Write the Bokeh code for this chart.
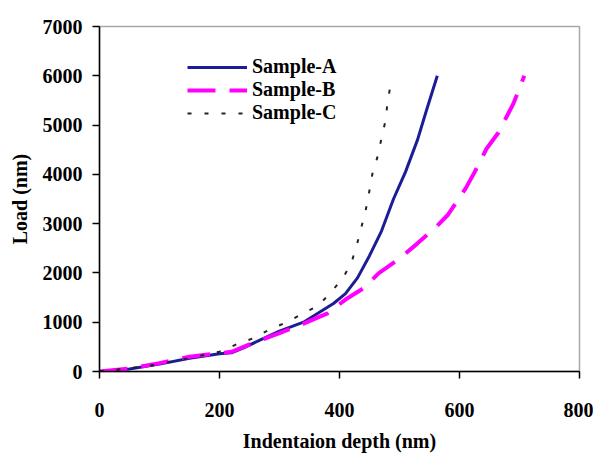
from bokeh.plotting import figure
from bokeh.models import Range1d, FixedTicker
from bokeh.embed import file_html
from bokeh.resources import INLINE

# Sample-A (solid navy)
depth_a = [0, 50, 100, 150, 200, 220, 240, 270, 300, 340, 360, 390, 410, 430, 450, 470, 490, 510, 530, 545, 563]
load_a = [0, 50, 150, 270, 360, 380, 480, 650, 820, 1000, 1150, 1380, 1580, 1900, 2350, 2850, 3500, 4050, 4700, 5300, 6000]

# Sample-B (dashed magenta)
depth_b = [0, 50, 100, 150, 200, 220, 250, 300, 340, 380, 410, 440, 465, 500, 530, 563, 580, 610, 625, 645, 665, 690, 708]
load_b = [0, 60, 170, 300, 370, 400, 550, 780, 970, 1180, 1460, 1690, 1990, 2290, 2600, 2960, 3170, 3710, 4040, 4520, 4850, 5440, 6000]

# Sample-C (dotted black)
depth_c = [0, 30, 85, 120, 160, 200, 230, 260, 280, 310, 340, 365, 385, 405, 420, 430, 438, 443, 449, 455, 463, 470, 477, 480, 487]
load_c = [0, 40, 120, 200, 300, 400, 560, 690, 830, 990, 1180, 1340, 1600, 1880, 2210, 2620, 3000, 3230, 3610, 4020, 4340, 4730, 5110, 5460, 5950]

x_ticks = [0, 200, 400, 600, 800]
y_ticks = [0, 1000, 2000, 3000, 4000, 5000, 6000, 7000]

FONT = "Liberation Serif"
FS = "20px"

p = figure(width=593, height=457, output_backend="svg", toolbar_location=None,
           x_range=Range1d(0, 800), y_range=Range1d(0, 7000),
           min_border_left=99, min_border_right=14, min_border_top=26, min_border_bottom=86)

p.line(depth_a, load_a, line_color="#1c1c96", line_width=3, legend_label="Sample-A")
p.line(depth_b, load_b, line_color="#ff00ff", line_width=4, line_dash="28 14", legend_label="Sample-B")
p.line(depth_c, load_c, line_color="#222222", line_width=2, line_dash="4 13", legend_label="Sample-C")

p.xgrid.visible = False
p.ygrid.visible = False
p.background_fill_color = "white"
p.border_fill_color = "white"
p.outline_line_color = "#a8a8a8"
p.outline_line_width = 1.5

for ax in (p.xaxis[0], p.yaxis[0]):
    ax.axis_line_color = "black"
    ax.axis_line_width = 1.5
    ax.major_tick_line_color = "black"
    ax.major_tick_line_width = 1.5
    ax.major_tick_in = 0
    ax.major_tick_out = 7
    ax.minor_tick_line_color = None
    ax.major_label_text_font = FONT
    ax.major_label_text_font_style = "bold"
    ax.major_label_text_font_size = FS
    ax.major_label_text_color = "black"
    ax.axis_label_text_font = FONT
    ax.axis_label_text_font_style = "bold"
    ax.axis_label_text_font_size = FS
    ax.axis_label_text_color = "black"

p.xaxis.ticker = FixedTicker(ticks=x_ticks)
p.yaxis.ticker = FixedTicker(ticks=y_ticks)
p.xaxis.axis_label = "Indentaion depth (nm)"
p.yaxis.axis_label = "Load (nm)"
p.xaxis.major_label_standoff = 24
p.xaxis.axis_label_standoff = 10
p.yaxis.major_label_standoff = 10
p.yaxis.axis_label_standoff = 9

lg = p.legend[0]
lg.location = (88, 247)
lg.border_line_color = None
lg.background_fill_alpha = 0
lg.label_text_font = FONT
lg.label_text_font_style = "bold"
lg.label_text_font_size = FS
lg.label_text_color = "black"
lg.glyph_width = 60
lg.glyph_height = 20
lg.label_height = 20
lg.label_standoff = 5
lg.spacing = -2
lg.padding = 0
lg.margin = 0

open("out.html", "w").write(file_html(p, INLINE))
